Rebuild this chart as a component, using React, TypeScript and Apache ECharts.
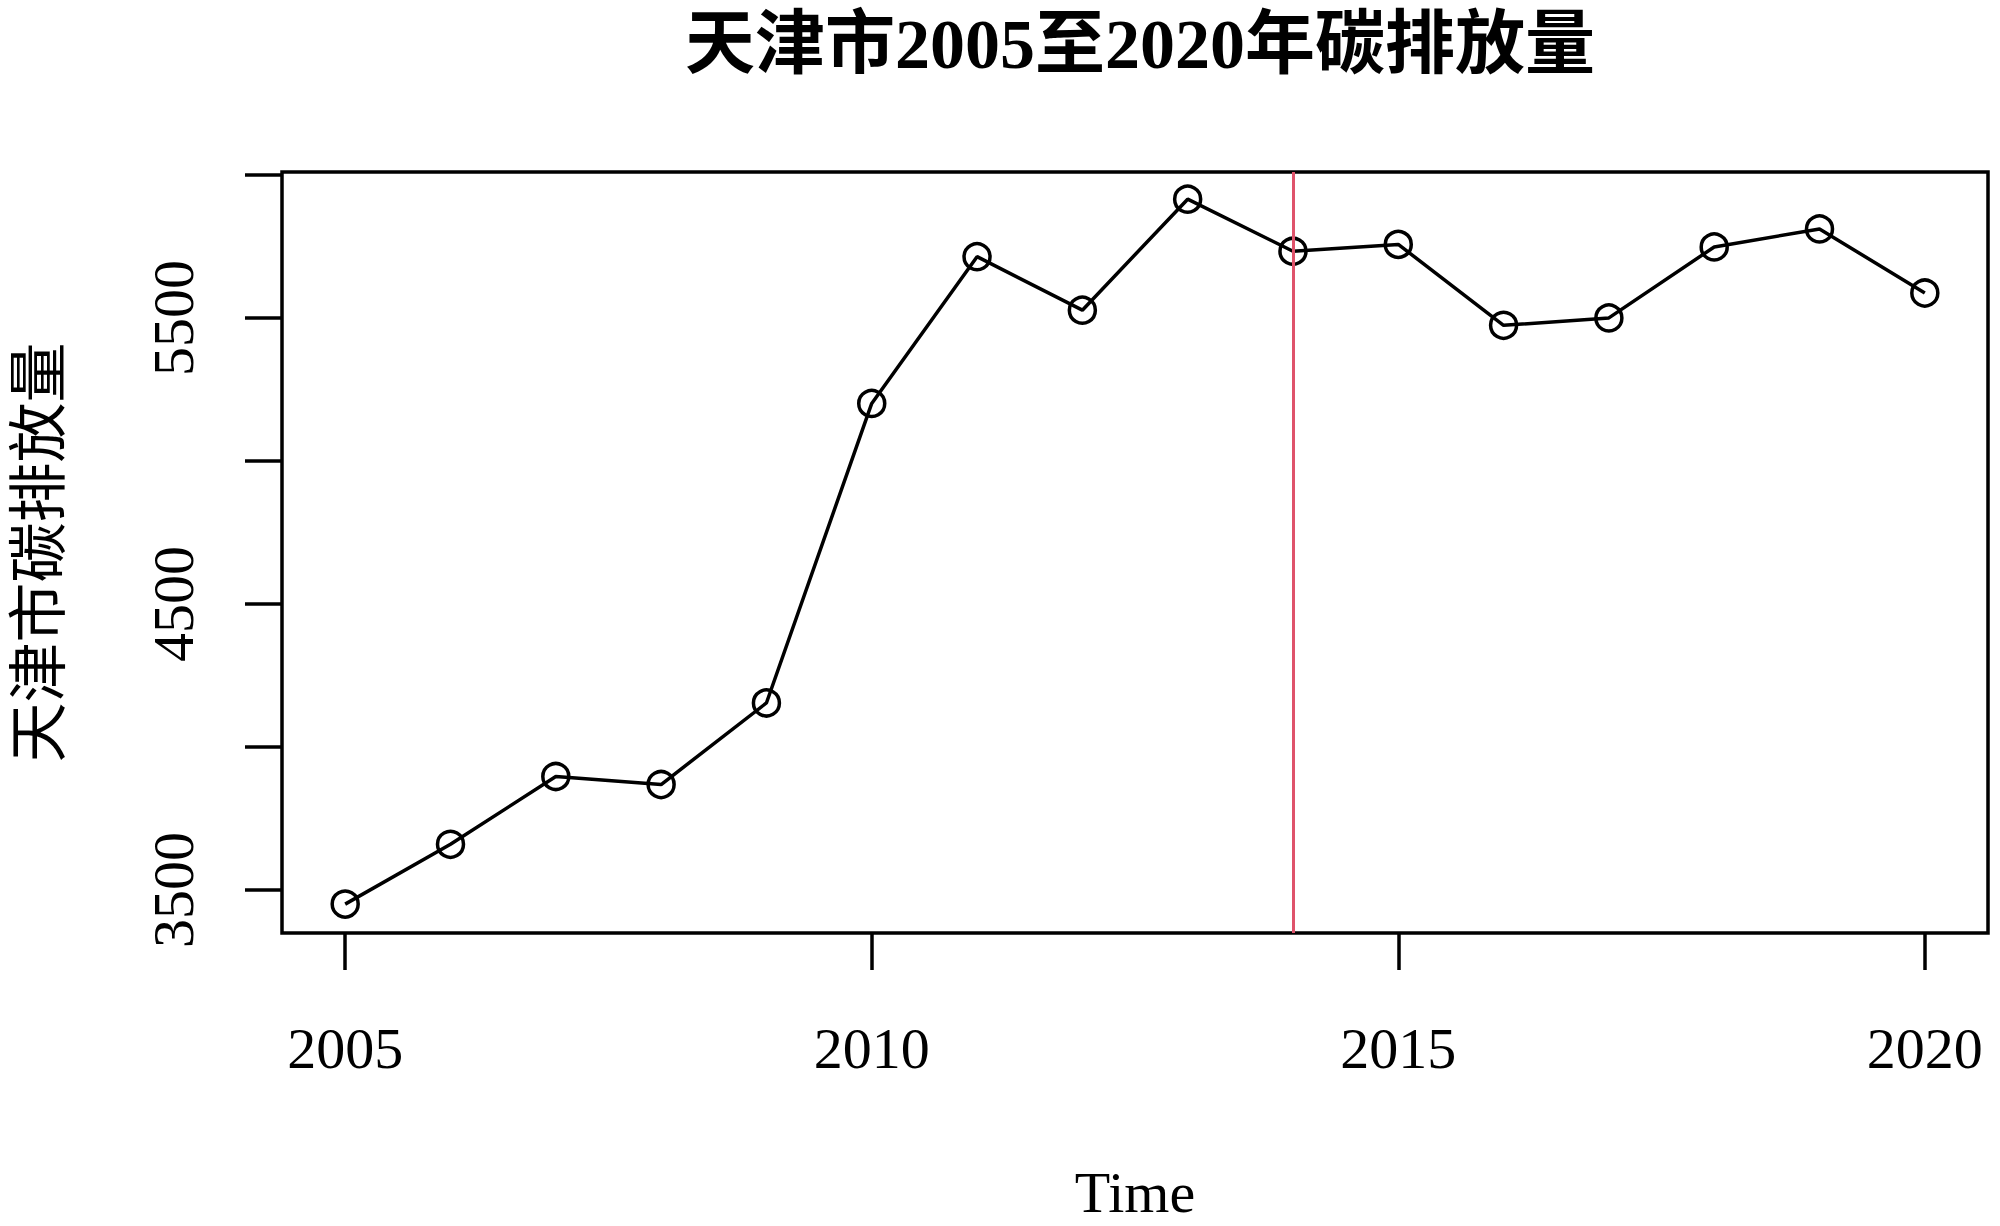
import React, { useEffect, useRef } from "react";
import * as echarts from "echarts";

const years = [2005, 2006, 2007, 2008, 2009, 2010, 2011, 2012, 2013, 2014, 2015, 2016, 2017, 2018, 2019, 2020];
const emissions = [3451, 3660, 3897, 3869, 4154, 5201, 5714, 5527, 5915, 5733, 5757, 5474, 5500, 5748, 5811, 5587];
const xTicks = [2005, 2010, 2015, 2020];
const yTicks = [3500, 4000, 4500, 5000, 5500, 6000];
const yTickLabels = [3500, 4500, 5500];
const breakYear = 2014;
const titleText = "天津市2005至2020年碳排放量";
const yName = "天津市碳排放量";
const xName = "Time";

const FONT = "'Liberation Serif', 'Times New Roman', 'Noto Sans CJK SC', serif";

export default function App() {
  const ref = useRef<HTMLDivElement>(null);
  useEffect(() => {
    if (!ref.current) return;
    const chart = echarts.init(ref.current, undefined, { renderer: "svg" });
    chart.setOption({
      animation: false,
      backgroundColor: "#ffffff",
      title: {
        text: titleText,
        left: 1135,
        top: 4,
        textAlign: "center",
        textStyle: { fontFamily: FONT, fontSize: 70, fontWeight: "bold", color: "#000" },
      },
      grid: {
        left: 282,
        right: 12,
        top: 172,
        bottom: 280,
        show: true,
        borderColor: "#000",
        borderWidth: 3.5,
        backgroundColor: "transparent",
      },
      xAxis: {
        type: "value",
        min: 2004.4,
        max: 2020.6,
        name: xName,
        nameLocation: "middle",
        nameGap: 230,
        nameTextStyle: { fontFamily: FONT, fontSize: 58, color: "#000" },
        axisLine: { show: false },
        splitLine: { show: false },
        axisTick: {
          show: true,
          inside: false,
          length: 37,
          customValues: xTicks,
          lineStyle: { color: "#000", width: 3.5 },
        },
        axisLabel: {
          customValues: xTicks,
          margin: 86,
          fontFamily: FONT,
          fontSize: 58,
          color: "#000",
          formatter: (v: number) => String(v),
        },
      },
      yAxis: {
        type: "value",
        min: 3350,
        max: 6010,
        name: yName,
        nameLocation: "middle",
        nameGap: 212,
        nameRotate: 90,
        nameTextStyle: { fontFamily: FONT, fontSize: 60, color: "#000" },
        axisLine: { show: false },
        splitLine: { show: false },
        axisTick: {
          show: true,
          inside: false,
          length: 37,
          customValues: yTicks,
          lineStyle: { color: "#000", width: 3.5 },
        },
        axisLabel: {
          customValues: yTickLabels,
          rotate: 90,
          margin: 80,
          fontFamily: FONT,
          fontSize: 58,
          color: "#000",
          formatter: (v: number) => String(v),
        },
      },
      series: [
        {
          type: "line",
          data: years.map((y, i) => [y, emissions[i]]),
          symbol: "circle",
          symbolSize: 26,
          showAllSymbol: true,
          lineStyle: { color: "#000", width: 3.5 },
          itemStyle: { color: "rgba(255,255,255,0)", borderColor: "#000", borderWidth: 3.5 },
          markLine: {
            silent: true,
            symbol: "none",
            label: { show: false },
            lineStyle: { color: "#DF536B", width: 3, type: "solid" },
            data: [{ xAxis: breakYear }],
          },
        },
      ],
    });
    return () => chart.dispose();
  }, []);
  return (
    <div
      ref={ref}
      style={{ position: "absolute", left: 0, top: 0, width: 2000, height: 1226, background: "#fff" }}
    />
  );
}
